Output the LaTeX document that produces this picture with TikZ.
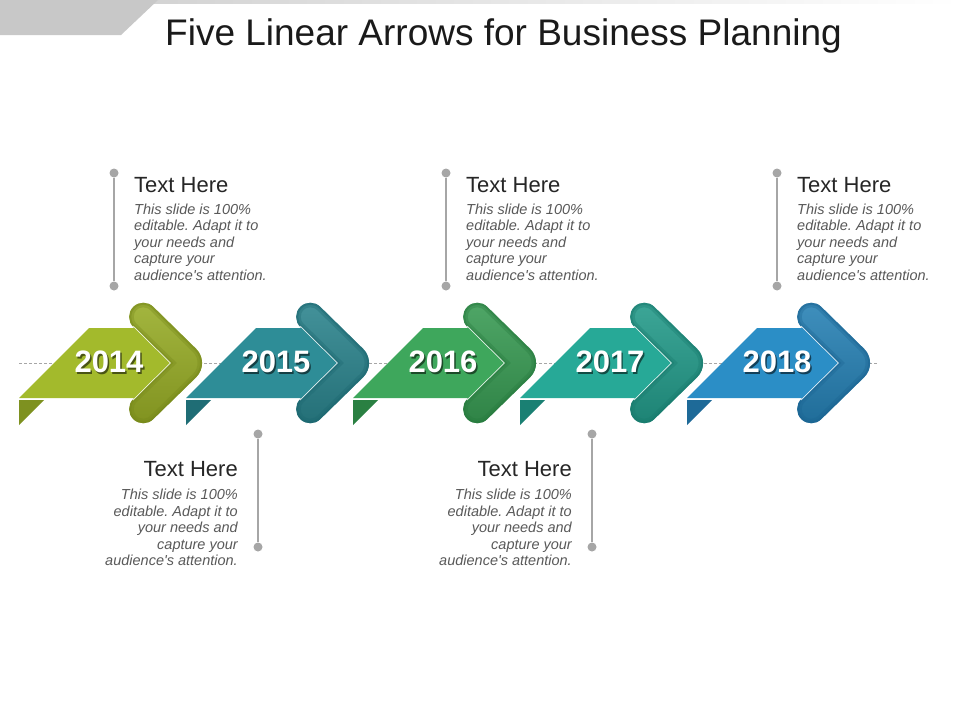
\documentclass[tikz,border=0pt]{standalone}
\usepackage{fontspec}
\setmainfont{Liberation Sans}
\frenchspacing
\definecolor{bodyA}{HTML}{A3BA2C}\definecolor{chevA}{HTML}{97AC25}\definecolor{rimA}{HTML}{76881A}\definecolor{tabA}{HTML}{7E9120}
\definecolor{bodyB}{HTML}{2E8D97}\definecolor{chevB}{HTML}{2A838C}\definecolor{rimB}{HTML}{1C6770}\definecolor{tabB}{HTML}{1F6D75}
\definecolor{bodyC}{HTML}{3EA75C}\definecolor{chevC}{HTML}{379A52}\definecolor{rimC}{HTML}{277A3E}\definecolor{tabC}{HTML}{2A8042}
\definecolor{bodyD}{HTML}{27A997}\definecolor{chevD}{HTML}{229A89}\definecolor{rimD}{HTML}{187A6D}\definecolor{tabD}{HTML}{1A8073}
\definecolor{bodyE}{HTML}{2B8EC6}\definecolor{chevE}{HTML}{2580B4}\definecolor{rimE}{HTML}{1B6492}\definecolor{tabE}{HTML}{1E6A98}
\definecolor{topgray}{HTML}{C8C8C8}
\definecolor{dotgray}{HTML}{A6A6A6}
\definecolor{titlecol}{HTML}{1A1A1A}
\definecolor{headcol}{HTML}{262626}
\definecolor{bodycol}{HTML}{595959}
\newcommand{\chevronpath}[1]{({#1+114.3},326.9) arc[start angle=135,end angle=315,radius=14.15] -- ({#1+177.2},348.9) arc[start angle=-45,end angle=45,radius=20] -- ({#1+134.3},419.1) arc[start angle=45,end angle=225,radius=14.15] -- ({#1+151.4},363) -- cycle}
\newcommand{\yeararrow}[6]{%
  \fill[#5] (#1,400) -- ({#1+25},400) -- (#1,425) -- cycle;
  \shade[top color=#3!88!white, bottom color=#3!85!black] \chevronpath{#1};
  \begin{scope}
    \clip \chevronpath{#1};
    \draw[#4, line width=9, opacity=0.35] \chevronpath{#1};
    \draw[#4, line width=4, opacity=0.45] \chevronpath{#1};
  \end{scope}
  \fill[#2] (#1,398) -- ({#1+70},328) -- ({#1+116.4},328) -- ({#1+151.4},363) -- ({#1+116.4},398) -- cycle;
  \draw[white, opacity=0.85, line width=0.7] ({#1+114},326) -- ({#1+151.4},363) -- ({#1+114},400);
  \node[yr] (y#6) at ({#1+90},363) {\rlap{\kern1.5pt\raisebox{-2pt}{\color{#2!45!black}#6}}#6};
}
\newcommand{\topcall}[2]{%
  \node[calldot] (#2a) at (#1,173) {};
  \node[calldot] (#2b) at (#1,286) {};
  \draw[callline] (#2a) -- (#2b);
  \node[calltitle, anchor=base west] (#2t) at ({#1+20},192) {Text Here};
  \node[callbody, anchor=north west, align=left] (#2d) at ({#1+20},{214-11.55}) {\strut This slide is 100\%\\editable. Adapt it to\\your needs and\\capture your\\audience\textquotesingle s attention.};
}
\newcommand{\botcall}[2]{%
  \node[calldot] (#2a) at (#1,434) {};
  \node[calldot] (#2b) at (#1,547) {};
  \draw[callline] (#2a) -- (#2b);
  \node[calltitle, anchor=base east] (#2t) at ({#1-20},476) {Text Here};
  \node[callbody, anchor=north east, align=right] (#2d) at ({#1-20},{499.5-11.55}) {\strut This slide is 100\%\\editable. Adapt it to\\your needs and\\capture your\\audience\textquotesingle s attention.};
}
\begin{document}
\begin{tikzpicture}[x=1pt, y=-1pt,
  yr/.style={text=white, font=\bfseries\fontsize{31}{31}\selectfont, inner sep=0},
  calldot/.style={circle, fill=dotgray, minimum size=9, inner sep=0},
  callline/.style={draw=dotgray, line width=2},
  calltitle/.style={text=headcol, font=\fontsize{22}{22}\selectfont, inner sep=0},
  callbody/.style={text=bodycol, font=\itshape\fontsize{14.5}{16.5}\selectfont, inner sep=0},
  dashline/.style={draw=gray!70, line width=0.8, dash pattern=on 3pt off 2pt}]
\useasboundingbox[fill=white] (0,0) rectangle (960,720);
% top decoration
\shade[left color=topgray!80, right color=white] (150,0) rectangle (960,3.5);
\fill[topgray] (0,0) -- (158,0) -- (121,35) -- (0,35) -- cycle;
\node[text=titlecol, font=\fontsize{37}{37}\selectfont, anchor=base, inner sep=0] (title) at (503.5,45) {Five Linear Arrows for Business Planning};
% dashed axis
\coordinate (axl) at (19,363);
\coordinate (axr) at (878,363);
\draw[dashline] (axl) -- (axr);
% arrows
\yeararrow{19}{bodyA}{chevA}{rimA}{tabA}{2014}
\yeararrow{186}{bodyB}{chevB}{rimB}{tabB}{2015}
\yeararrow{353}{bodyC}{chevC}{rimC}{tabC}{2016}
\yeararrow{520}{bodyD}{chevD}{rimD}{tabD}{2017}
\yeararrow{687}{bodyE}{chevE}{rimE}{tabE}{2018}
% callouts
\topcall{114}{ca}
\topcall{446}{cc}
\topcall{777}{ce}
\botcall{258}{cb}
\botcall{592}{cd}
\end{tikzpicture}
\end{document}
